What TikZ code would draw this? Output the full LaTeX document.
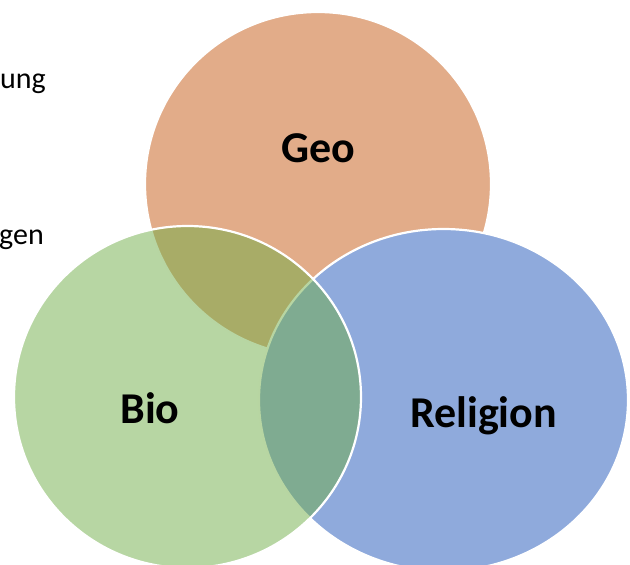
\documentclass[tikz,border=0pt]{standalone}
\usepackage{fontspec}
\setmainfont{Carlito}
\definecolor{geofill}{RGB}{226,172,137}
\definecolor{relfill}{RGB}{143,170,220}
\definecolor{biofill}{RGB}{112,173,71}
\tikzset{
  setlabel/.style={font=\bfseries\fontsize{44}{44}\selectfont,anchor=base,inner sep=0pt},
  sidetext/.style={font=\fontsize{30}{30}\selectfont,anchor=base east,inner sep=0pt},
  setedge/.style={draw=white,line width=2.2pt}
}
\begin{document}
\begin{tikzpicture}[x=1pt,y=-1pt]
    \useasboundingbox (0,0) rectangle (630,565);
    % cut-off text on the left
    \node[sidetext] (t1) at (46,88) {ung};
    \node[sidetext] (t2) at (44,244) {gen};
    % the three sets
    \path[setedge,fill=geofill] (318,184) ellipse [x radius=173,y radius=172];
    \path[setedge,fill=relfill] (443.5,400) ellipse [x radius=184.5,y radius=171];
    \path[setedge,fill=biofill,fill opacity=0.5] (187.5,397) ellipse [x radius=173.5,y radius=171];
    \node[setlabel] (geo) at (318.5,162) {Geo};
    \node[setlabel] (bio) at (150,423) {Bio};
    \node[setlabel] (rel) at (483.5,427) {Religion};
\end{tikzpicture}
\end{document}
